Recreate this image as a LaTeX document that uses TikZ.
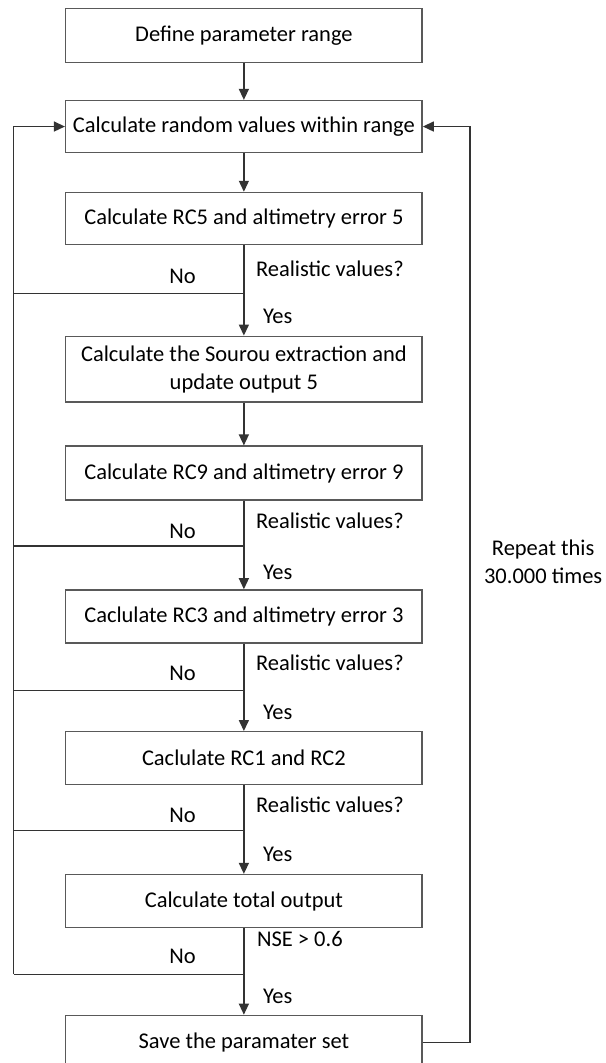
\documentclass[tikz,border=0pt]{standalone}
\usepackage{fontspec}
\setmainfont{Carlito}
\usetikzlibrary{arrows.meta}
\begin{document}
\begin{tikzpicture}[x=1pt,y=-1pt,
  line width=1.4pt,
  every path/.style={draw=black!80},
  box/.style={draw=black!65,fill=white,minimum width=357pt,align=center,inner sep=0pt,
    font=\fontsize{22.5}{28}\selectfont},
  lbl/.style={font=\fontsize{22.5}{27}\selectfont,inner sep=0pt},
  arr/.style={-{Triangle[length=11pt,width=10pt]}}]
\useasboundingbox (0,0) rectangle (605,1063);
\fill[white] (0,0) rectangle (605,1063);
% boxes
\node[box,minimum height=54pt] (b1) at (243.5,35) {Define parameter range};
\node[box,minimum height=52pt] (b2) at (243.5,126) {Calculate random values within range};
\node[box,minimum height=52pt] (b3) at (243.5,218) {Calculate RC5 and altimetry error 5};
\node[box,minimum height=66pt] (b4) at (243.5,369) {Calculate the Sourou extraction and\\update output 5};
\node[box,minimum height=54pt] (b5) at (243.5,473) {Calculate RC9 and altimetry error 9};
\node[box,minimum height=53pt] (b6) at (243.5,616.5) {Caclulate RC3 and altimetry error 3};
\node[box,minimum height=53pt] (b7) at (243.5,758.5) {Caclulate RC1 and RC2};
\node[box,minimum height=53pt] (b8) at (243.5,901.5) {Calculate total output};
\node[box,minimum height=54pt] (b9) at (243.5,1043) {Save the paramater set};
% junctions
\coordinate (j3) at (243.5,293);
\coordinate (j5) at (243.5,546);
\coordinate (j6) at (243.5,691);
\coordinate (j7) at (243.5,831);
\coordinate (j8) at (243.5,975);
\coordinate (l3) at (13,293);
\coordinate (l5) at (13,546);
\coordinate (l6) at (13,691);
\coordinate (l7) at (13,831);
\coordinate (l8) at (13,975);
\coordinate (lt) at (13,126);
\coordinate (r1) at (470,1043);
\coordinate (r2) at (470,126);
% main flow
\draw[arr] (b1.south) -- (b2.north);
\draw[arr] (b2.south) -- (b3.north);
\draw (b3.south) -- (j3);
\draw[arr] (j3) -- (b4.north);
\draw[arr] (b4.south) -- (b5.north);
\draw (b5.south) -- (j5);
\draw[arr] (j5) -- (b6.north);
\draw (b6.south) -- (j6);
\draw[arr] (j6) -- (b7.north);
\draw (b7.south) -- (j7);
\draw[arr] (j7) -- (b8.north);
\draw (b8.south) -- (j8);
\draw[arr] (j8) -- (b9.north);
% no branches
\draw (j3) -- (l3);
\draw (j5) -- (l5);
\draw (j6) -- (l6);
\draw (j7) -- (l7);
\draw (j8) -- (l8);
\draw[arr] (l8) -- (lt) -- (b2.west);
% repeat loop
\draw[arr] (b9.east) -- (r1) -- (r2) -- (b2.east);
% labels
\node[lbl,anchor=west] (q3) at (255,268) {Realistic values?};
\node[lbl] (n3) at (182,276) {No};
\node[lbl,anchor=west] (y3) at (262,316) {Yes};
\node[lbl,anchor=west] (q5) at (255,521) {Realistic values?};
\node[lbl] (n5) at (182,531) {No};
\node[lbl,anchor=west] (y5) at (262,572) {Yes};
\node[lbl,anchor=west] (q6) at (255,663) {Realistic values?};
\node[lbl] (n6) at (182,674) {No};
\node[lbl,anchor=west] (y6) at (262,713) {Yes};
\node[lbl,anchor=west] (q7) at (255,805) {Realistic values?};
\node[lbl] (n7) at (182,816) {No};
\node[lbl,anchor=west] (y7) at (262,855) {Yes};
\node[lbl,anchor=west] (q8) at (256,940) {NSE > 0.6};
\node[lbl] (n8) at (182,957) {No};
\node[lbl,anchor=west] (y8) at (262,997) {Yes};
\node[lbl,align=center,anchor=east,font=\fontsize{22.5}{28}\selectfont] (rep) at (603,562) {Repeat this\\30.000 times};
\end{tikzpicture}
\end{document}
